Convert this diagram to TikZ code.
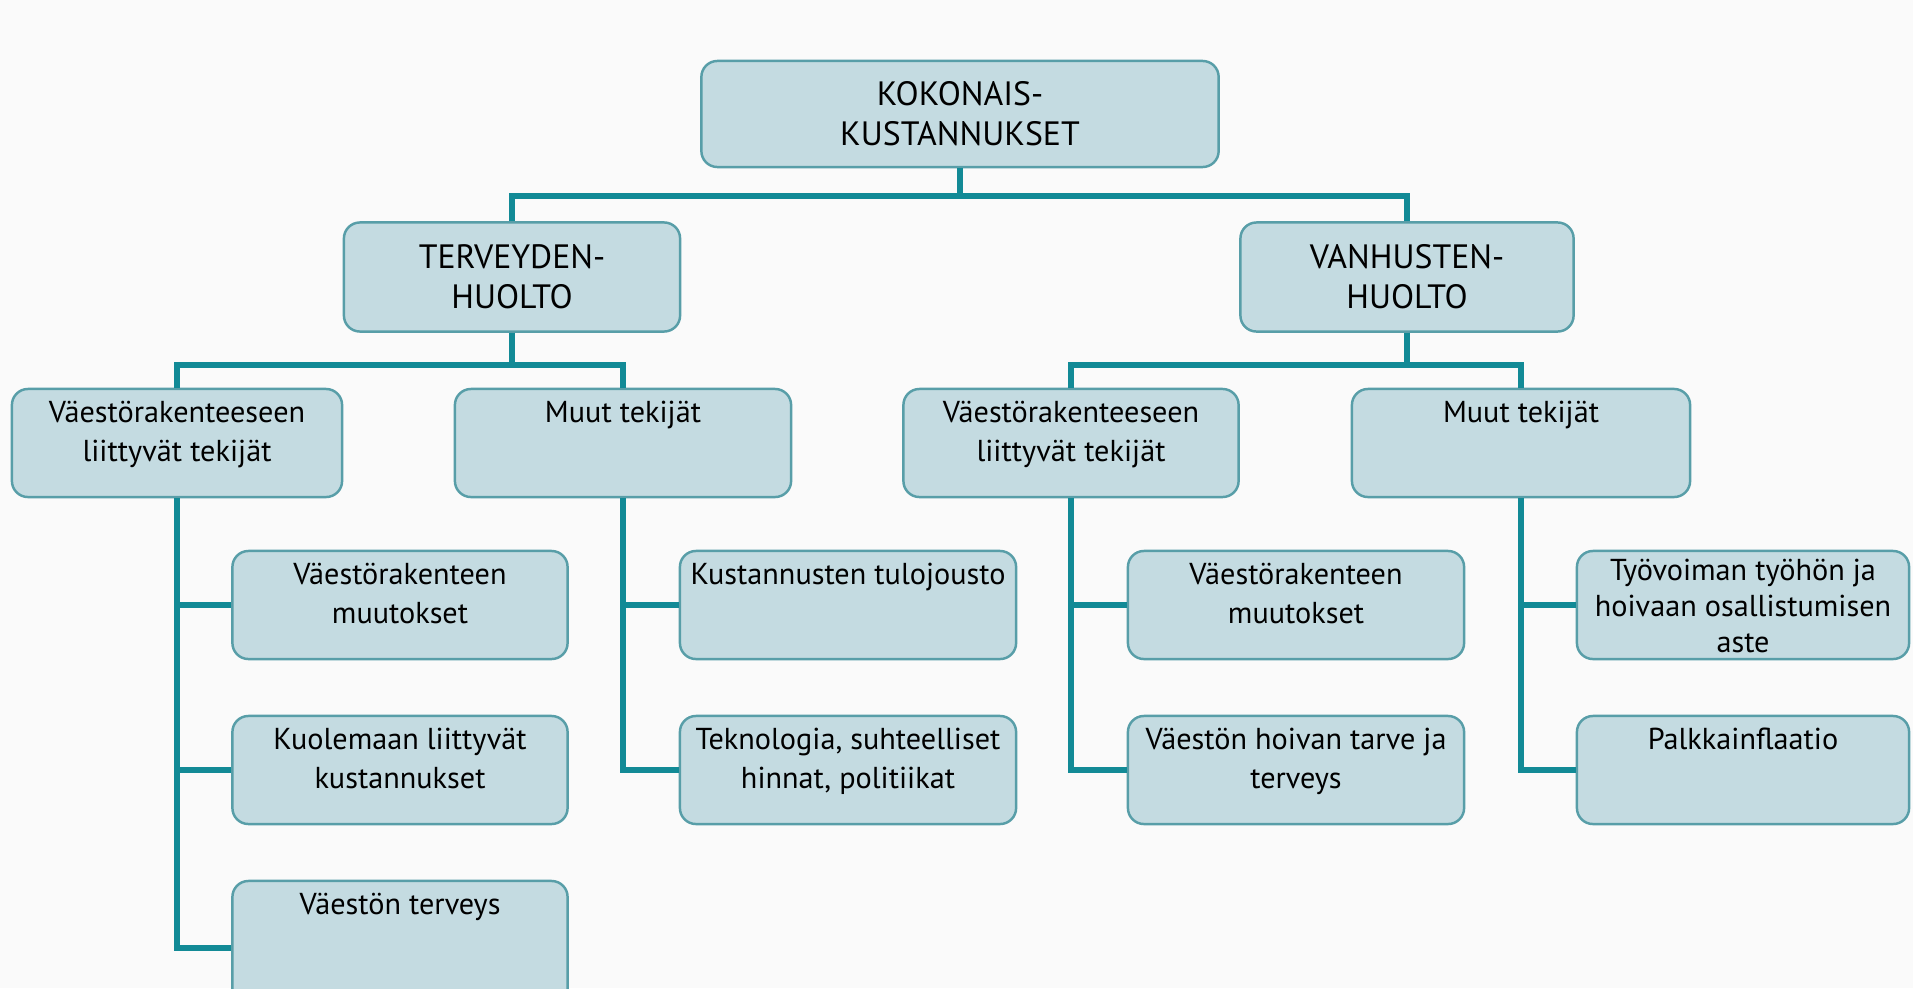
\documentclass[tikz,border=0pt]{standalone}
\usepackage{fontspec}
\setmainfont{PT Sans}
\usepackage{tikz}
\definecolor{boxfill}{RGB}{196,219,225}
\definecolor{boxline}{RGB}{88,158,168}
\definecolor{linkcol}{RGB}{18,138,150}
\definecolor{bgcol}{RGB}{250,250,250}
\newcommand{\toptext}[1]{\parbox[c][0.84cm][t]{3.25cm}{\centering #1}}
\tikzstyle{head} = [rectangle, rounded corners=0.16cm, draw=boxline, line width=0.7pt, fill=boxfill, align=center, font=\fontsize{9.6}{11.3}\selectfont, inner sep=0pt]
\tikzstyle{factor} = [rectangle, rounded corners=0.16cm, draw=boxline, line width=0.7pt, fill=boxfill, inner xsep=0pt, inner ysep=0.12cm, font=\fontsize{8.6}{11.2}\selectfont]
\tikzstyle{link} = [draw=linkcol, line width=1.6pt]

\begin{document}
\begin{tikzpicture}[x=0.01cm, y=-0.01cm]
  \fill [bgcol] (0,0) rectangle (1913,988);
  \useasboundingbox (0,0) rectangle (1913,988);

  \node (KOK) [head, minimum width=5.17cm, minimum height=1.06cm] at (960,114) {KOKONAIS-\\KUSTANNUKSET};
  \node (TER) [head, minimum width=3.36cm, minimum height=1.09cm] at (512,277) {TERVEYDEN-\\HUOLTO};
  \node (VAN) [head, minimum width=3.33cm, minimum height=1.09cm] at (1407,277) {VANHUSTEN-\\HUOLTO};

  \node (TVR) [factor, minimum width=3.30cm] at (177,443) {\toptext{Väestörakenteeseen\\liittyvät tekijät}};
  \node (TMU) [factor, minimum width=3.36cm] at (623,443) {\toptext{Muut tekijät}};
  \node (VVR) [factor, minimum width=3.35cm] at (1071,443) {\toptext{Väestörakenteeseen\\liittyvät tekijät}};
  \node (VMU) [factor, minimum width=3.38cm] at (1521,443) {\toptext{Muut tekijät}};

  \node (TVM) [factor, minimum width=3.35cm] at (400,605) {\toptext{Väestörakenteen\\muutokset}};
  \node (TKU) [factor, minimum width=3.35cm] at (400,770) {\toptext{Kuolemaan liittyvät\\kustannukset}};
  \node (TVT) [factor, minimum width=3.35cm] at (400,948) {\parbox[c][1.10cm][t]{3.25cm}{\centering Väestön terveys}};
  \node (TTJ) [factor, minimum width=3.36cm] at (848,605) {\toptext{Kustannusten tulojousto}};
  \node (TTE) [factor, minimum width=3.36cm] at (848,770) {\toptext{Teknologia, suhteelliset\\hinnat, politiikat}};
  \node (VVM) [factor, minimum width=3.36cm] at (1296,605) {\toptext{Väestörakenteen\\muutokset}};
  \node (VHT) [factor, minimum width=3.36cm] at (1296,770) {\toptext{Väestön hoivan tarve ja\\terveys}};
  \node (VTY) [factor, minimum width=3.32cm, inner ysep=0.08cm, font=\fontsize{8.6}{10.2}\selectfont] at (1743,605) {\parbox[c][0.92cm][t]{3.3cm}{\centering Työvoiman työhön ja\\hoivaan osallistumisen\\aste}};
  \node (VPA) [factor, minimum width=3.32cm] at (1743,770) {\toptext{Palkkainflaatio}};

  \draw [link] (KOK.south) -- ++(0,28) -| (TER.north);
  \draw [link] (KOK.south) -- ++(0,28) -| (VAN.north);
  \draw [link] (TER.south) -- ++(0,32) -| (TVR.north);
  \draw [link] (TER.south) -- ++(0,32) -| (TMU.north);
  \draw [link] (VAN.south) -- ++(0,32) -| (VVR.north);
  \draw [link] (VAN.south) -- ++(0,32) -| (VMU.north);

  \draw [link] (TVR.south) |- (TVM.west);
  \draw [link] (TVR.south) |- (TKU.west);
  \draw [link] (TVR.south) |- (TVT.west);
  \draw [link] (TMU.south) |- (TTJ.west);
  \draw [link] (TMU.south) |- (TTE.west);
  \draw [link] (VVR.south) |- (VVM.west);
  \draw [link] (VVR.south) |- (VHT.west);
  \draw [link] (VMU.south) |- (VTY.west);
  \draw [link] (VMU.south) |- (VPA.west);
\end{tikzpicture}
\end{document}
